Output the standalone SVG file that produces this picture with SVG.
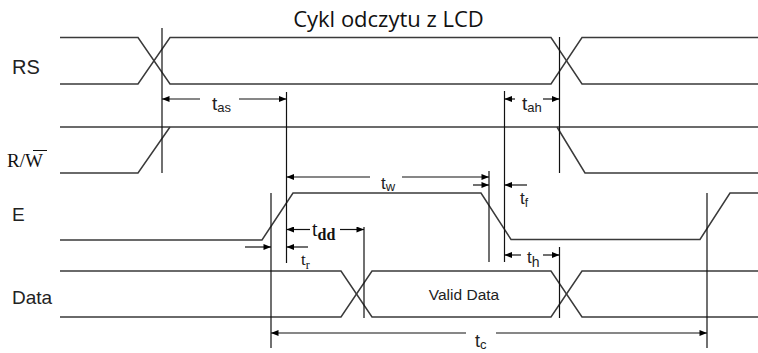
<svg xmlns="http://www.w3.org/2000/svg" width="758" height="353" viewBox="0 0 758 353">
<style>
.sig{fill:none;stroke:#3a3a3a;stroke-width:1.5}
.vl{stroke:#111;stroke-width:1.2}
.ar{stroke:#111;stroke-width:1.2;marker-end:url(#ah)}
.lbl{font-family:"Liberation Sans",Arial,sans-serif;fill:#222}
.ser{font-family:"Liberation Serif","Times New Roman",serif;fill:#111}
.title{font-family:"Open Sans","Noto Sans",sans-serif;font-size:22px;fill:#111}
</style>
<defs>
<marker id="ah" viewBox="0 0 10 8" refX="10" refY="4" markerWidth="9" markerHeight="6" orient="auto" markerUnits="userSpaceOnUse">
<path d="M0,0 L10,4 L0,8 z" fill="#000"/>
</marker>
</defs>
<rect width="758" height="353" fill="#fff"/>
<text class="title" x="388.5" y="26.5" text-anchor="middle">Cykl odczytu z LCD</text>

<g id="RS">
<text class="lbl" x="12" y="74" font-size="20">RS</text>
<path class="sig" d="M60,37.5 H138 L170,84 H551 L582,37.5 H758"/>
<path class="sig" d="M60,84 H138 L170,37.5 H551 L582,84 H758"/>
</g>

<g id="RW">
<text class="ser" x="7" y="167" font-size="19">R/W</text>
<line x1="33" y1="150.5" x2="47" y2="150.5" stroke="#111" stroke-width="1"/>
<path class="sig" d="M60,127 H758"/>
<path class="sig" d="M60,173 H138 L170,127"/>
<path class="sig" d="M557,127 L585,173 H758"/>
</g>

<g id="E">
<text class="lbl" x="12" y="221" font-size="19">E</text>
<path class="sig" d="M60,240 H262 L293,193 H481 L511,239.5 H700 L730,193 H758"/>
</g>

<g id="Data">
<text class="lbl" x="12" y="304" font-size="19">Data</text>
<path class="sig" d="M60,271 H341 L372,317 H551 L582,271 H758"/>
<path class="sig" d="M60,317 H341 L372,271 H551 L582,317 H758"/>
<text class="lbl" x="464" y="300" font-size="15.5" text-anchor="middle">Valid Data</text>
</g>

<g id="connectors">
<line class="vl" x1="162" y1="28" x2="162" y2="173"/>
<line class="vl" x1="286.5" y1="92" x2="286.5" y2="263"/>
<line class="vl" x1="504.5" y1="91" x2="504.5" y2="262"/>
<line class="vl" x1="559.5" y1="37" x2="559.5" y2="173"/>
<line class="vl" x1="271" y1="193" x2="271" y2="348"/>
<line class="vl" x1="489" y1="171" x2="489" y2="262"/>
<line class="vl" x1="364" y1="227" x2="364" y2="318"/>
<line class="vl" x1="559.5" y1="247" x2="559.5" y2="318"/>
<line class="vl" x1="707" y1="193" x2="707" y2="348"/>

<line class="ar" x1="200" y1="99" x2="162" y2="99"/>
<line class="ar" x1="239" y1="99" x2="286.5" y2="99"/>
<line class="ar" x1="515" y1="99" x2="504.5" y2="99"/>
<line class="ar" x1="543" y1="99" x2="559.5" y2="99"/>
<line class="ar" x1="370" y1="177" x2="286.5" y2="177"/>
<line class="ar" x1="402" y1="177" x2="489" y2="177"/>
<line class="ar" x1="473" y1="185" x2="489" y2="185"/>
<line class="ar" x1="527" y1="185" x2="504.5" y2="185"/>
<line class="ar" x1="310" y1="229.5" x2="286.5" y2="229.5"/>
<line class="ar" x1="340" y1="229.5" x2="364" y2="229.5"/>
<line class="ar" x1="245" y1="247" x2="271" y2="247"/>
<line class="ar" x1="308" y1="247" x2="286.5" y2="247"/>
<line class="ar" x1="521" y1="255" x2="504.5" y2="255"/>
<line class="ar" x1="543" y1="255" x2="559.5" y2="255"/>
<line class="ar" x1="466" y1="333" x2="271" y2="333"/>
<line class="ar" x1="496" y1="333" x2="707" y2="333"/>
</g>

<g id="labels">
<text class="lbl" x="212" y="110" font-size="19">t<tspan font-size="13" dy="2">as</tspan></text>
<text class="lbl" x="522" y="110" font-size="19">t<tspan font-size="13" dy="2">ah</tspan></text>
<text class="lbl" x="381" y="189" font-size="17">t<tspan font-size="13" dy="2">w</tspan></text>
<text class="lbl" x="520" y="204" font-size="17">t<tspan font-size="12" dy="3">f</tspan></text>
<text class="ser" x="312" y="236" font-size="20">t<tspan font-size="16" font-weight="bold" dy="4">dd</tspan></text>
<text class="ser" x="301" y="265" font-size="17">t<tspan font-size="12" dy="4">r</tspan></text>
<text class="lbl" x="527" y="263" font-size="17">t<tspan font-size="14" dy="4">h</tspan></text>
<text class="lbl" x="475" y="347" font-size="18">t<tspan font-size="13" dy="2">c</tspan></text>
</g>
</svg>
